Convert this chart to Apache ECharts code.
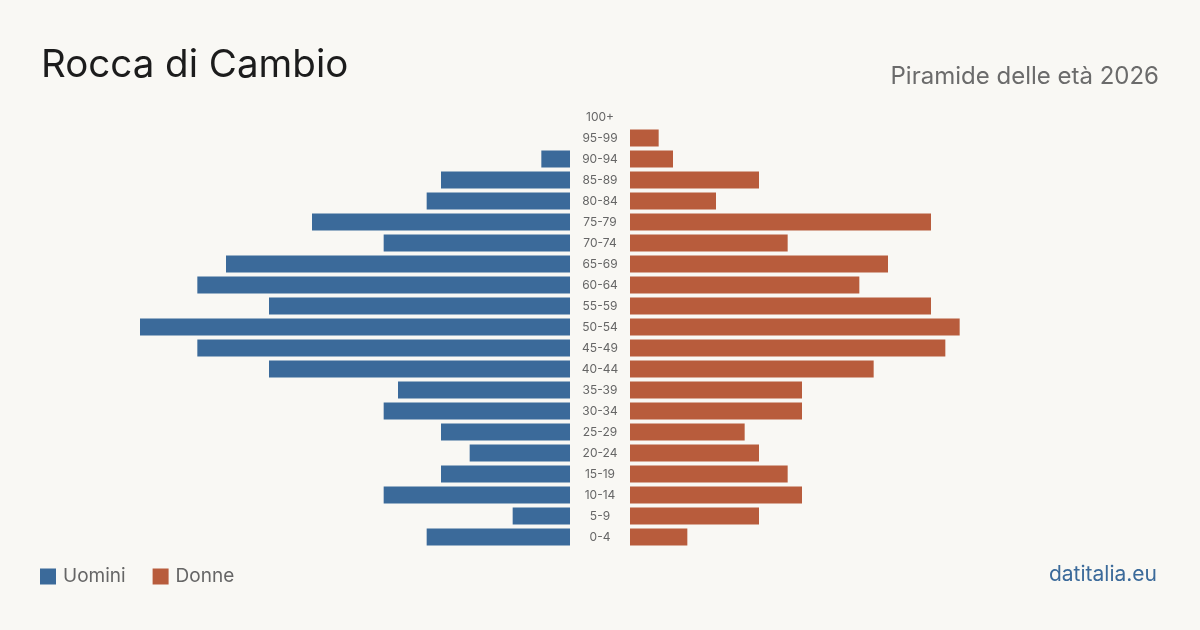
<!DOCTYPE html>
<html>
<head>
<meta charset="utf-8">
<title>Rocca di Cambio - Piramide delle età 2026</title>
<script src="https://cdn.jsdelivr.net/npm/echarts@6/dist/echarts.min.js"></script>
<style>
html, body { margin: 0; padding: 0; background: #f9f8f4; }
#chart { width: 1200px; height: 630px; }
</style>
</head>
<body>
<div id="chart"></div>
<script>
// classi di età, dall'alto verso il basso
var ageGroups = ['100+', '95-99', '90-94', '85-89', '80-84', '75-79', '70-74', '65-69', '60-64', '55-59',
    '50-54', '45-49', '40-44', '35-39', '30-34', '25-29', '20-24', '15-19', '10-14', '5-9', '0-4'];
var men   = [0, 0, 2, 9, 10, 18, 13, 24, 26, 21, 30, 26, 21, 12, 13, 9, 7, 9, 13, 4, 10];
var women = [0, 2, 3, 9, 6, 21, 11, 18, 16, 21, 23, 22, 17, 12, 12, 8, 9, 11, 12, 9, 4];
var axisMax = 30;

var blue = '#3b6a9a';
var red = '#b85c3c';
var font = 'Inter, "Noto Sans", sans-serif';

var chart = echarts.init(document.getElementById('chart'));
var option = {
    backgroundColor: '#f9f8f4',
    animation: false,
    textStyle: { fontFamily: font },
    title: [
        {
            text: 'Rocca di Cambio',
            left: 41, top: 46, padding: 0,
            textStyle: { fontSize: 38.5, fontWeight: 'normal', color: '#1c1c1c', fontFamily: font }
        },
        {
            text: 'Piramide delle età 2026',
            right: 41, top: 65, padding: 0,
            textStyle: { fontSize: 24, fontWeight: 'normal', color: '#6b6b6b', fontFamily: font }
        },
        {
            text: 'datitalia.eu',
            right: 43, top: 564, padding: 0,
            textStyle: { fontSize: 21, fontWeight: 'normal', color: '#3b6a9a', fontFamily: font }
        }
    ],
    legend: {
        left: 40, top: 567, padding: 0,
        icon: 'rect',
        itemWidth: 16, itemHeight: 16,
        itemGap: 27,
        data: ['Uomini', 'Donne'],
        textStyle: { fontSize: 19, color: '#666', fontFamily: font, padding: [0, 0, 0, 2] }
    },
    grid: [
        { left: 140, width: 430, top: 106.5, height: 441 },
        { left: 630, width: 430, top: 106.5, height: 441 }
    ],
    xAxis: [
        { gridIndex: 0, type: 'value', min: 0, max: axisMax, inverse: true, show: false },
        { gridIndex: 1, type: 'value', min: 0, max: axisMax, show: false }
    ],
    yAxis: [
        {
            gridIndex: 0, type: 'category', data: ageGroups, inverse: true,
            axisLine: { show: false }, axisTick: { show: false }, axisLabel: { show: false }
        },
        {
            gridIndex: 1, type: 'category', data: ageGroups, inverse: true,
            axisLine: { show: false }, axisTick: { show: false },
            axisLabel: { margin: 30, align: 'center', fontSize: 12, color: '#666', fontFamily: font }
        }
    ],
    series: [
        {
            name: 'Uomini', type: 'bar', xAxisIndex: 0, yAxisIndex: 0,
            data: men, barWidth: 17, itemStyle: { color: blue }
        },
        {
            name: 'Donne', type: 'bar', xAxisIndex: 1, yAxisIndex: 1,
            data: women, barWidth: 17, itemStyle: { color: red }
        }
    ]
};
chart.setOption(option);
</script>
</body>
</html>
